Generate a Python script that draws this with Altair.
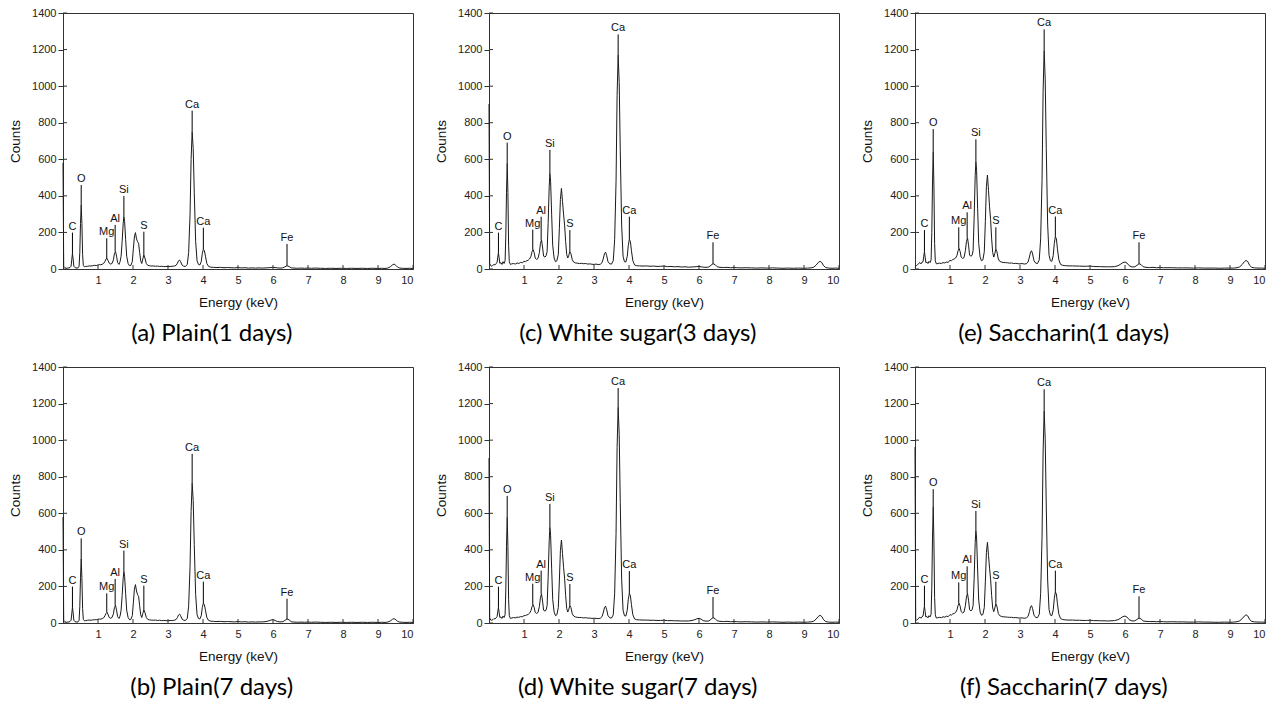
import altair as alt
import pandas as pd

energy = [
    0.00, 0.02, 0.05, 0.08, 0.11, 0.14, 0.17, 0.20, 0.23, 0.25,
    0.27, 0.29, 0.31, 0.34, 0.37, 0.40, 0.43, 0.46, 0.48, 0.50,
    0.52, 0.54, 0.56, 0.58, 0.61, 0.65, 0.70, 0.75, 0.80, 0.85,
    0.90, 0.95, 1.00, 1.04, 1.08, 1.12, 1.16, 1.20, 1.23, 1.26,
    1.29, 1.32, 1.36, 1.40, 1.44, 1.47, 1.50, 1.53, 1.56, 1.60,
    1.63, 1.66, 1.69, 1.72, 1.74, 1.76, 1.79, 1.82, 1.86, 1.90,
    1.94, 1.98, 2.01, 2.04, 2.07, 2.10, 2.13, 2.16, 2.19, 2.22,
    2.25, 2.28, 2.31, 2.34, 2.38, 2.42, 2.47, 2.52, 2.58, 2.64,
    2.70, 2.76, 2.82, 2.88, 2.94, 3.00, 3.06, 3.12, 3.18, 3.23,
    3.27, 3.30, 3.33, 3.36, 3.40, 3.45, 3.50, 3.55, 3.59, 3.63,
    3.66, 3.69, 3.72, 3.75, 3.79, 3.83, 3.87, 3.91, 3.95, 3.98,
    4.01, 4.04, 4.07, 4.11, 4.16, 4.22, 4.30, 4.40, 4.50, 4.60,
    4.70, 4.80, 4.90, 5.00, 5.10, 5.20, 5.30, 5.40, 5.50, 5.60,
    5.70, 5.80, 5.88, 5.94, 6.00, 6.06, 6.12, 6.20, 6.28, 6.34,
    6.40, 6.46, 6.52, 6.60, 6.70, 6.80, 6.90, 7.00, 7.10, 7.20,
    7.35, 7.50, 7.65, 7.80, 7.95, 8.10, 8.25, 8.40, 8.55, 8.70,
    8.85, 9.00, 9.10, 9.20, 9.28, 9.35, 9.41, 9.46, 9.51, 9.56,
    9.62, 9.70, 9.80, 9.90, 10.00,
]

counts_a = [
    580, 15, 8, 5, 4, 5, 6, 8, 15, 50,
    86, 55, 15, 8, 6, 5, 6, 15, 90, 250,
    350, 250, 80, 20, 12, 14, 15, 17, 16, 18,
    20, 19, 22, 24, 23, 26, 30, 42, 55, 58,
    45, 32, 27, 30, 50, 85, 95, 70, 35, 25,
    40, 70, 150, 250, 286, 260, 160, 70, 30, 18,
    20, 40, 110, 175, 199, 165, 150, 140, 90, 45,
    30, 55, 77, 60, 30, 20, 18, 16, 17, 15,
    16, 14, 15, 13, 14, 13, 14, 15, 16, 20,
    32, 45, 49, 40, 22, 15, 14, 25, 90, 300,
    600, 751, 660, 420, 150, 45, 25, 22, 40, 85,
    107, 100, 70, 30, 14, 10, 9, 8, 9, 7,
    8, 7, 6, 8, 6, 7, 5, 6, 5, 6,
    5, 6, 7, 8, 9, 8, 6, 5, 6, 12,
    18, 14, 6, 5, 4, 5, 4, 5, 4, 5,
    4, 3, 4, 3, 4, 3, 4, 3, 4, 3,
    4, 3, 4, 3, 5, 12, 22, 27, 20, 10,
    5, 4, 3, 4, 3,
]

counts_b = [
    580, 15, 8, 5, 4, 5, 6, 8, 15, 50,
    86, 55, 15, 8, 6, 5, 6, 15, 90, 250,
    350, 245, 80, 20, 12, 13, 15, 16, 15, 17,
    18, 18, 20, 22, 21, 24, 28, 40, 52, 58,
    45, 30, 26, 30, 50, 85, 97, 70, 35, 25,
    38, 70, 150, 245, 281, 255, 160, 70, 30, 18,
    20, 40, 110, 185, 210, 175, 155, 145, 95, 45,
    30, 52, 71, 58, 30, 20, 17, 16, 15, 16,
    14, 15, 13, 14, 13, 12, 14, 13, 15, 19,
    30, 44, 49, 40, 22, 15, 14, 25, 92, 310,
    610, 765, 670, 430, 155, 45, 25, 22, 40, 85,
    108, 100, 70, 30, 14, 10, 9, 8, 9, 7,
    8, 7, 6, 8, 6, 7, 5, 6, 5, 6,
    6, 8, 12, 16, 18, 14, 8, 6, 7, 14,
    22, 17, 7, 5, 4, 5, 4, 5, 4, 5,
    4, 3, 4, 3, 4, 3, 4, 3, 4, 3,
    4, 3, 4, 3, 5, 11, 20, 24, 18, 9,
    5, 4, 3, 4, 3,
]

counts_c = [
    902, 30, 18, 15, 20, 25, 22, 30, 35, 65,
    89, 60, 30, 35, 25, 40, 30, 45, 180, 420,
    578, 420, 130, 40, 25, 28, 30, 27, 33, 30,
    36, 34, 42, 40, 45, 48, 55, 70, 95, 106,
    90, 60, 52, 58, 90, 140, 159, 120, 70, 65,
    72, 95, 250, 450, 523, 480, 300, 130, 60, 40,
    45, 80, 220, 380, 441, 370, 300, 240, 150, 80,
    60, 75, 95, 85, 50, 38, 33, 32, 30, 31,
    29, 30, 27, 28, 26, 25, 27, 24, 26, 35,
    60, 85, 92, 75, 40, 28, 27, 45, 160, 480,
    950, 1170, 1020, 650, 240, 70, 40, 38, 70, 130,
    162, 150, 100, 45, 22, 18, 17, 16, 17, 15,
    16, 14, 15, 16, 13, 14, 12, 13, 11, 12,
    10, 11, 12, 13, 14, 12, 10, 9, 11, 20,
    29, 24, 12, 9, 8, 9, 7, 8, 7, 6,
    7, 6, 5, 6, 5, 6, 5, 4, 5, 4,
    5, 4, 5, 6, 10, 22, 36, 42, 35, 18,
    8, 5, 4, 5, 4,
]

counts_d = [
    902, 28, 16, 15, 18, 24, 22, 28, 34, 60,
    85, 58, 30, 33, 25, 38, 30, 45, 180, 420,
    578, 420, 130, 40, 25, 27, 30, 28, 32, 31,
    35, 34, 40, 41, 44, 47, 54, 68, 90, 100,
    86, 58, 52, 58, 90, 140, 159, 120, 70, 65,
    70, 95, 250, 450, 523, 480, 300, 130, 60, 40,
    45, 85, 230, 395, 454, 380, 305, 245, 150, 80,
    60, 75, 95, 85, 50, 38, 33, 31, 30, 30,
    28, 29, 27, 27, 25, 26, 25, 24, 26, 35,
    60, 85, 92, 75, 40, 28, 27, 45, 160, 490,
    960, 1180, 1030, 660, 240, 70, 40, 38, 70, 130,
    162, 150, 100, 45, 22, 18, 17, 16, 16, 15,
    15, 14, 14, 15, 13, 13, 12, 12, 11, 11,
    11, 14, 18, 23, 25, 21, 13, 10, 11, 20,
    29, 24, 12, 9, 8, 9, 7, 8, 7, 6,
    7, 6, 5, 6, 5, 6, 5, 4, 5, 4,
    5, 4, 5, 6, 10, 22, 36, 42, 35, 18,
    8, 5, 4, 5, 4,
]

counts_e = [
    10, 15, 20, 25, 30, 35, 28, 38, 40, 70,
    95, 65, 35, 38, 30, 42, 35, 50, 200, 470,
    640, 460, 140, 45, 28, 30, 32, 30, 35, 33,
    38, 36, 48, 45, 52, 55, 60, 75, 100, 113,
    95, 65, 58, 62, 100, 150, 171, 130, 75, 70,
    75, 100, 280, 510, 587, 540, 330, 140, 65, 45,
    50, 95, 260, 450, 514, 430, 340, 270, 165, 90,
    65, 85, 108, 95, 55, 42, 38, 36, 35, 34,
    32, 33, 30, 31, 29, 28, 30, 27, 29, 38,
    65, 92, 100, 82, 45, 32, 30, 50, 165, 490,
    970, 1195, 1040, 660, 245, 75, 45, 42, 75, 140,
    177, 165, 110, 50, 25, 20, 18, 17, 17, 16,
    16, 15, 15, 16, 14, 13, 13, 12, 12, 12,
    13, 18, 27, 35, 38, 32, 18, 11, 12, 20,
    29, 24, 12, 9, 8, 9, 7, 8, 7, 7,
    7, 6, 6, 6, 5, 6, 5, 5, 5, 4,
    5, 5, 5, 7, 12, 25, 40, 47, 40, 20,
    9, 6, 5, 5, 4,
]

counts_f = [
    962, 20, 15, 20, 28, 32, 26, 35, 38, 68,
    91, 62, 33, 36, 28, 40, 33, 48, 195, 465,
    634, 455, 140, 45, 27, 29, 31, 29, 34, 32,
    37, 35, 46, 43, 50, 52, 58, 72, 96, 108,
    92, 62, 55, 60, 95, 142, 162, 125, 72, 66,
    72, 95, 245, 440, 505, 465, 290, 125, 60, 42,
    47, 85, 225, 385, 441, 370, 300, 240, 150, 82,
    62, 82, 104, 92, 52, 40, 36, 34, 33, 32,
    31, 31, 29, 30, 28, 27, 28, 26, 28, 36,
    62, 88, 95, 78, 43, 30, 29, 48, 160, 475,
    935, 1160, 1010, 640, 235, 72, 43, 40, 72, 135,
    170, 158, 105, 48, 24, 19, 17, 16, 16, 15,
    15, 14, 14, 15, 13, 13, 12, 12, 11, 12,
    13, 18, 27, 35, 38, 32, 18, 11, 12, 19,
    27, 22, 11, 9, 8, 8, 7, 8, 7, 6,
    7, 6, 6, 5, 5, 6, 5, 5, 4, 4,
    5, 4, 5, 7, 12, 24, 38, 45, 38, 19,
    9, 6, 5, 5, 4,
]

elements = ["C", "O", "Mg", "Al", "Si", "S", "Ca", "Ca", "Fe"]
element_energy = [0.27, 0.52, 1.25, 1.49, 1.74, 2.31, 3.69, 4.01, 6.40]

marker_lo_a = [86, 350, 58, 95, 286, 77, 751, 107, 18]
marker_hi_a = [199, 459, 168, 241, 399, 204, 866, 226, 137]
marker_lo_b = [86, 350, 58, 97, 281, 71, 765, 108, 22]
marker_hi_b = [199, 463, 162, 241, 396, 204, 925, 226, 133]
marker_lo_c = [89, 578, 106, 159, 523, 95, 1170, 162, 29]
marker_hi_c = [199, 691, 215, 286, 651, 213, 1283, 286, 146]
marker_lo_d = [85, 578, 100, 159, 523, 95, 1180, 162, 29]
marker_hi_d = [199, 695, 215, 286, 651, 213, 1285, 284, 142]
marker_lo_e = [95, 640, 113, 171, 587, 108, 1195, 177, 29]
marker_hi_e = [213, 765, 228, 310, 709, 228, 1310, 287, 146]
marker_lo_f = [91, 634, 108, 162, 505, 104, 1160, 170, 27]
marker_hi_f = [204, 732, 222, 310, 613, 226, 1278, 286, 146]

captions = [
    "(a) Plain(1 days)", "(c) White sugar(3 days)", "(e) Saccharin(1 days)",
    "(b) Plain(7 days)", "(d) White sugar(7 days)", "(f) Saccharin(7 days)",
]

x_ticks = [1, 2, 3, 4, 5, 6, 7, 8, 9, 10]
y_ticks = [0, 200, 400, 600, 800, 1000, 1200, 1400]

for lst in [counts_a, counts_b, counts_c, counts_d, counts_e, counts_f]:
    assert len(lst) == len(energy), len(lst)

W, H = 350, 256
AXIS_FONT = "Liberation Sans"

x_axis = alt.Axis(values=x_ticks, title="Energy (keV)", ticks=False, grid=False,
                  labelPadding=5, titlePadding=10, format="d")
y_axis = alt.Axis(values=y_ticks, title="Counts", tickSize=5, grid=False,
                  labelPadding=2, titlePadding=9, format="d")
x_scale = alt.Scale(domain=[0, 10], nice=False, zero=False)
y_scale = alt.Scale(domain=[0, 1400], nice=False)


def panel(counts, lo, hi, caption):
    spec = pd.DataFrame({"E": energy, "Counts": counts})
    peaks = pd.DataFrame({"el": elements, "E": element_energy, "lo": lo, "hi": hi})
    line = alt.Chart(spec).mark_line(color="#1a1a1a", strokeWidth=1).encode(
        x=alt.X("E:Q", scale=x_scale, axis=x_axis),
        y=alt.Y("Counts:Q", scale=y_scale, axis=y_axis),
    )
    rules = alt.Chart(peaks).mark_rule(color="#000000", strokeWidth=1).encode(
        x=alt.X("E:Q", scale=x_scale, axis=x_axis),
        y=alt.Y("lo:Q", scale=y_scale, axis=y_axis),
        y2="hi:Q",
    )
    labels = alt.Chart(peaks).mark_text(
        baseline="alphabetic", dy=-3, fontSize=11, font=AXIS_FONT, color="#111111"
    ).encode(
        x=alt.X("E:Q", scale=x_scale, axis=x_axis),
        y=alt.Y("hi:Q", scale=y_scale, axis=y_axis),
        text="el:N",
    )
    xt = alt.Chart(pd.DataFrame({"t": x_ticks})).mark_rule(color="#333333").encode(
        x=alt.X("t:Q", scale=x_scale, axis=x_axis), y=alt.value(H), y2=alt.value(H - 4)
    )
    yt = alt.Chart(pd.DataFrame({"t": y_ticks})).mark_rule(color="#333333").encode(
        y=alt.Y("t:Q", scale=y_scale, axis=y_axis), x=alt.value(0), x2=alt.value(4)
    )
    return alt.layer(line, rules, labels, xt, yt).properties(
        width=W, height=H,
        title=alt.TitleParams(caption, orient="bottom", anchor="middle", frame="bounds",
                              font="Lato", fontSize=24, fontWeight="normal",
                              color="#000000", offset=13),
    )


pa = panel(counts_a, marker_lo_a, marker_hi_a, captions[0])
pc = panel(counts_c, marker_lo_c, marker_hi_c, captions[1])
pe = panel(counts_e, marker_lo_e, marker_hi_e, captions[2])
pb = panel(counts_b, marker_lo_b, marker_hi_b, captions[3])
pd_ = panel(counts_d, marker_lo_d, marker_hi_d, captions[4])
pf = panel(counts_f, marker_lo_f, marker_hi_f, captions[5])

chart = alt.vconcat(
    alt.hconcat(pa, pc, pe, spacing=18),
    alt.hconcat(pb, pd_, pf, spacing=18),
    spacing=14,
).properties(
    padding={"left": 0, "top": -2, "right": 0, "bottom": 0},
    background="white",
).configure_view(
    stroke="#333333", strokeWidth=1
).configure_axis(
    labelFont=AXIS_FONT, labelFontSize=11, labelColor="#222222",
    titleFont=AXIS_FONT, titleFontSize=13.5, titleFontWeight="normal", titleColor="#111111",
    domainColor="#333333", tickColor="#333333",
)

chart.save("out.html", embed_options={"renderer": "svg", "actions": False})
